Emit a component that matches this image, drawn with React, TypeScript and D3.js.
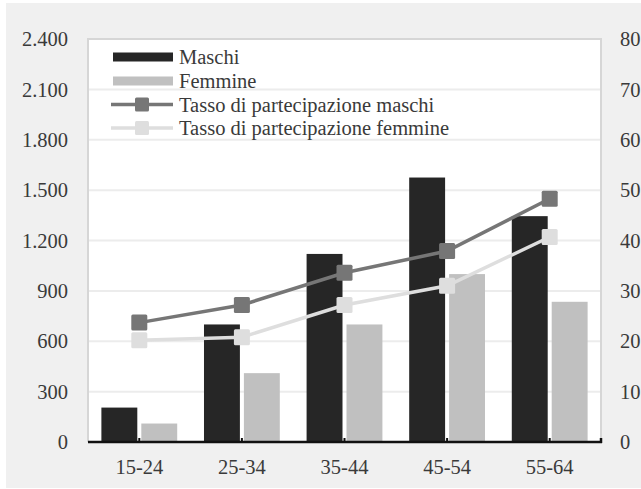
import React from "react";
import * as d3 from "d3";

const categories = ["15-24", "25-34", "35-44", "45-54", "55-64"];
const maschi = [205, 700, 1120, 1575, 1345];
const femmine = [110, 410, 700, 1000, 835];
const tassoMaschi = [23.7, 27.2, 33.6, 37.9, 48.3];
const tassoFemmine = [20.2, 20.8, 27.2, 31.0, 40.7];
const leftTicks = [0, 300, 600, 900, 1200, 1500, 1800, 2100, 2400];
const rightTicks = [0, 10, 20, 30, 40, 50, 60, 70, 80];
const legendLabels = [
  "Maschi",
  "Femmine",
  "Tasso di partecipazione maschi",
  "Tasso di partecipazione femmine",
];

const W = 641;
const H = 489;
const plot = { left: 88, right: 601, top: 39, bottom: 442 };
const C = {
  bg: "#f0f0f0",
  maschi: "#262626",
  femmine: "#c0c0c0",
  lineM: "#767676",
  lineF: "#dedede",
  grid: "#ececec",
  border: "#d6d6d6",
  text: "#3a3a3a",
};
const FONT = "'Liberation Serif', 'Times New Roman', serif";

export default function App() {
  const x = d3
    .scaleBand<string>()
    .domain(categories)
    .range([plot.left, plot.right])
    .paddingInner(0)
    .paddingOuter(0);
  const yL = d3.scaleLinear().domain([0, 2400]).range([plot.bottom, plot.top]);
  const yR = d3.scaleLinear().domain([0, 80]).range([plot.bottom, plot.top]);
  const bw = x.bandwidth();
  const barW = bw * 0.35;
  const gap = 4;
  const cx = (c: string) => (x(c) as number) + bw / 2;

  const lineGen = (vals: number[]) =>
    d3
      .line<number>()
      .x((_, i) => cx(categories[i]))
      .y((v) => yR(v))(vals) as string;

  const ms = 16;
  const legendRows = [57, 81, 104.5, 128];

  return (
    <svg
      width={W}
      height={H}
      style={{ position: "absolute", left: 0, top: 0, fontFamily: FONT }}
    >
      <rect x={0} y={0} width={W} height={H} fill="#ffffff" />
      <rect x={6} y={3} width={W - 6} height={485} fill={C.bg} />
      <rect
        x={plot.left}
        y={plot.top}
        width={plot.right - plot.left}
        height={plot.bottom - plot.top}
        fill="#ffffff"
      />
      {leftTicks.slice(1).map((t) => (
        <line
          key={"g" + t}
          x1={plot.left}
          x2={plot.right}
          y1={yL(t)}
          y2={yL(t)}
          stroke={C.grid}
          strokeWidth={2}
        />
      ))}
      {/* plot border */}
      <path
        d={`M${plot.left},${plot.bottom} V${plot.top} H${plot.right} V${plot.bottom}`}
        fill="none"
        stroke={C.border}
        strokeWidth={2}
      />
      {/* bars */}
      {categories.map((c, i) => (
        <g key={c}>
          <rect
            x={cx(c) - gap / 2 - barW}
            y={yL(maschi[i])}
            width={barW}
            height={plot.bottom - yL(maschi[i])}
            fill={C.maschi}
          />
          <rect
            x={cx(c) + gap / 2}
            y={yL(femmine[i])}
            width={barW}
            height={plot.bottom - yL(femmine[i])}
            fill={C.femmine}
          />
        </g>
      ))}
      {/* axis */}
      <line
        x1={plot.left}
        x2={plot.right + 1}
        y1={plot.bottom}
        y2={plot.bottom}
        stroke="#111"
        strokeWidth={2.5}
      />
      {categories.map((c) => (
        <line
          key={"t" + c}
          x1={cx(c)}
          x2={cx(c)}
          y1={plot.bottom}
          y2={plot.bottom - 4}
          stroke="#111"
          strokeWidth={2}
        />
      ))}
      <line
        x1={plot.right}
        x2={plot.right}
        y1={plot.bottom + 1}
        y2={plot.bottom - 4}
        stroke="#111"
        strokeWidth={2.5}
      />
      {/* lines */}
      <path d={lineGen(tassoFemmine)} fill="none" stroke={C.lineF} strokeWidth={3.5} />
      {tassoFemmine.map((v, i) => (
        <rect
          key={"mf" + i}
          x={cx(categories[i]) - ms / 2}
          y={yR(v) - ms / 2}
          width={ms}
          height={ms}
          rx={1.5}
          fill={C.lineF}
        />
      ))}
      <path d={lineGen(tassoMaschi)} fill="none" stroke={C.lineM} strokeWidth={3.5} />
      {tassoMaschi.map((v, i) => (
        <rect
          key={"mm" + i}
          x={cx(categories[i]) - ms / 2}
          y={yR(v) - ms / 2}
          width={ms}
          height={ms}
          rx={1.5}
          fill={C.lineM}
        />
      ))}
      {/* left ticks */}
      {leftTicks.map((t) => (
        <text
          key={"l" + t}
          x={68}
          y={yL(t)}
          dy="0.35em"
          textAnchor="end"
          fontSize={20.5}
          fill={C.text}
        >
          {d3.format(",")(t).replace(/,/g, ".")}
        </text>
      ))}
      {/* right ticks */}
      {rightTicks.map((t) => (
        <text
          key={"r" + t}
          x={620}
          y={yR(t)}
          dy="0.35em"
          textAnchor="start"
          fontSize={20.5}
          fill={C.text}
        >
          {t}
        </text>
      ))}
      {/* x labels */}
      {categories.map((c) => (
        <text
          key={"x" + c}
          x={cx(c)}
          y={474}
          textAnchor="middle"
          fontSize={20.5}
          fill={C.text}
        >
          {c}
        </text>
      ))}
      {/* legend */}
      <rect x={113} y={legendRows[0] - 4.5} width={60} height={9} fill={C.maschi} />
      <rect x={113} y={legendRows[1] - 4.5} width={60} height={9} fill={C.femmine} />
      <line x1={111} x2={173} y1={legendRows[2]} y2={legendRows[2]} stroke={C.lineM} strokeWidth={3.5} />
      <rect x={142 - 7} y={legendRows[2] - 7} width={14} height={14} rx={1.5} fill={C.lineM} />
      <line x1={111} x2={173} y1={legendRows[3]} y2={legendRows[3]} stroke={C.lineF} strokeWidth={3.5} />
      <rect x={142 - 7} y={legendRows[3] - 7} width={14} height={14} rx={1.5} fill={C.lineF} />
      {legendLabels.map((l, i) => (
        <text
          key={l}
          x={179}
          y={legendRows[i]}
          dy="0.35em"
          fontSize={20.5}
          fill={C.text}
        >
          {l}
        </text>
      ))}
    </svg>
  );
}
